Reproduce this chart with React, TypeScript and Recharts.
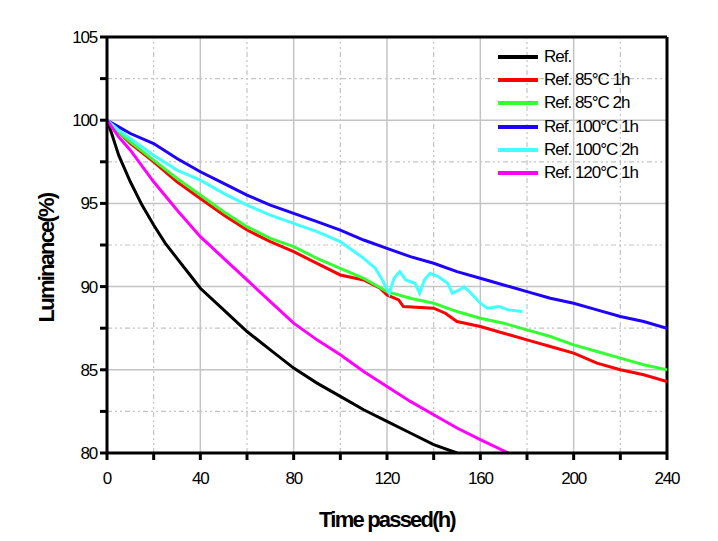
import React from "react";
import {
  LineChart,
  Line,
  XAxis,
  YAxis,
  ReferenceLine,
  Legend,
} from "recharts";

type Pt = { t: number; v: number };

const toPts = (rows: number[][]): Pt[] => rows.map(([t, v]) => ({ t, v }));

// luminance (%) vs time passed (h)
const refData = toPts([
  [0, 100], [2, 99.2], [5, 97.9], [10, 96.3], [15, 94.9], [20, 93.7], [25, 92.6],
  [30, 91.7], [35, 90.8], [40, 89.9], [50, 88.6], [60, 87.3], [70, 86.2], [80, 85.1],
  [90, 84.2], [100, 83.4], [110, 82.6], [120, 81.9], [130, 81.2], [140, 80.5], [150, 80.0],
]);

const ref85_1h = toPts([
  [0, 100], [5, 99.3], [10, 98.6], [20, 97.5], [30, 96.3], [40, 95.3], [50, 94.3],
  [60, 93.4], [70, 92.7], [80, 92.1], [90, 91.4], [100, 90.7], [110, 90.4], [117, 89.9],
  [120, 89.5], [125, 89.2], [127, 88.8], [140, 88.7], [145, 88.4], [150, 87.9], [160, 87.6],
  [170, 87.2], [180, 86.8], [190, 86.4], [200, 86.0], [210, 85.4], [220, 85.0], [230, 84.7],
  [240, 84.3],
]);

const ref85_2h = toPts([
  [0, 100], [5, 99.3], [10, 98.7], [20, 97.6], [30, 96.5], [40, 95.5], [50, 94.5],
  [60, 93.6], [70, 92.9], [80, 92.4], [90, 91.7], [100, 91.1], [110, 90.5], [120, 89.7],
  [130, 89.3], [140, 89.0], [150, 88.5], [160, 88.1], [170, 87.8], [180, 87.4], [190, 87.0],
  [200, 86.5], [210, 86.1], [220, 85.7], [230, 85.3], [240, 85.0],
]);

const ref100_1h = toPts([
  [0, 100], [5, 99.6], [10, 99.2], [20, 98.6], [30, 97.7], [40, 96.9], [50, 96.2],
  [60, 95.5], [70, 94.9], [80, 94.4], [90, 93.9], [100, 93.4], [110, 92.8], [120, 92.3],
  [130, 91.8], [140, 91.4], [150, 90.9], [160, 90.5], [170, 90.1], [180, 89.7], [190, 89.3],
  [200, 89.0], [210, 88.6], [220, 88.2], [230, 87.9], [240, 87.5],
]);

const ref100_2h = toPts([
  [0, 100], [5, 99.4], [10, 98.9], [20, 97.9], [30, 97.0], [40, 96.4], [50, 95.6],
  [60, 94.9], [70, 94.3], [80, 93.8], [90, 93.3], [100, 92.7], [110, 91.7], [115, 91.1],
  [118, 90.4], [121, 89.6], [123, 90.5], [125.5, 90.9], [128, 90.4], [132, 90.2],
  [134, 89.6], [136, 90.4], [138.5, 90.8], [142, 90.6], [146, 90.2], [148, 89.6],
  [151, 89.8], [153, 90.0], [156, 89.6], [160, 89.0], [163, 88.7], [168, 88.8],
  [172, 88.6], [178, 88.5],
]);

const ref120_1h = toPts([
  [0, 100], [5, 99.0], [10, 98.2], [20, 96.3], [30, 94.6], [40, 93.0], [50, 91.7],
  [60, 90.4], [70, 89.1], [80, 87.8], [90, 86.8], [100, 85.9], [110, 84.9], [120, 84.0],
  [130, 83.1], [140, 82.3], [150, 81.5], [160, 80.8], [172, 80.0],
]);

const seriesNames = [
  "Ref.",
  "Ref. 85°C 1h",
  "Ref. 85°C 2h",
  "Ref. 100°C 1h",
  "Ref. 100°C 2h",
  "Ref. 120°C 1h",
];
const seriesColors = ["#000000", "#ff0000", "#33ff33", "#1e00ff", "#44ffff", "#ff00ff"];
const seriesData = [refData, ref85_1h, ref85_2h, ref100_1h, ref100_2h, ref120_1h];

const xTicks = [0, 20, 40, 60, 80, 100, 120, 140, 160, 180, 200, 220, 240];
const yTicks = [80, 82.5, 85, 87.5, 90, 92.5, 95, 97.5, 100, 102.5, 105];
const xMajorGrid = [40, 80, 120, 160, 200];
const xMinorGrid = [20, 60, 100, 140, 180, 220];
const yMajorGrid = [85, 90, 95, 100];
const yMinorGrid = [82.5, 87.5, 92.5, 97.5, 102.5];

const FONT = "'Liberation Sans', Arial, sans-serif";
const GRID = "#c4c4c4";
const DOTS = "5 3 2 3 2 3";

function YTick(props: any) {
  const { x, y, payload } = props;
  const major = payload.value % 5 === 0;
  return (
    <g>
      <line x1={x} x2={x - 7} y1={y} y2={y} stroke="#000" strokeWidth={3} />
      {major && (
        <text
          x={x - 10}
          y={y + 6}
          textAnchor="end"
          fontFamily={FONT}
          fontSize={17}
          letterSpacing={-1.2}
          fill="#000"
        >
          {payload.value}
        </text>
      )}
    </g>
  );
}

function XTick(props: any) {
  const { x, y, payload } = props;
  const major = payload.value % 40 === 0;
  return (
    <g>
      <line x1={x} x2={x} y1={y} y2={y + 7} stroke="#000" strokeWidth={3} />
      {major && (
        <text
          x={x}
          y={y + 31}
          textAnchor="middle"
          fontFamily={FONT}
          fontSize={17}
          letterSpacing={-1.2}
          fill="#000"
        >
          {payload.value}
        </text>
      )}
    </g>
  );
}

function LegendBox() {
  return (
    <div style={{ fontFamily: FONT, fontSize: 17, letterSpacing: -1, color: "#000" }}>
      {seriesNames.map((name, i) => (
        <div key={name} style={{ display: "flex", alignItems: "center", height: 23.3 }}>
          <div
            style={{ width: 40, height: 4, background: seriesColors[i], marginRight: 6 }}
          />
          <span>{name}</span>
        </div>
      ))}
    </div>
  );
}

export default function App() {
  return (
    <div style={{ position: "absolute", left: 0, top: 0 }}>
      <LineChart
        width={718}
        height={541}
        margin={{ top: 37, right: 51, left: 0, bottom: 0 }}
      >
        {yMajorGrid.map((v) => (
          <ReferenceLine key={"ym" + v} y={v} stroke={GRID} strokeWidth={1.5} />
        ))}
        {yMinorGrid.map((v) => (
          <ReferenceLine key={"yn" + v} y={v} stroke={GRID} strokeWidth={1.2} strokeDasharray={DOTS} />
        ))}
        {xMajorGrid.map((v) => (
          <ReferenceLine key={"xm" + v} x={v} stroke={GRID} strokeWidth={1.5} />
        ))}
        {xMinorGrid.map((v) => (
          <ReferenceLine key={"xn" + v} x={v} stroke={GRID} strokeWidth={1.2} strokeDasharray={DOTS} />
        ))}
        <XAxis
          dataKey="t"
          type="number"
          domain={[0, 240]}
          ticks={xTicks}
          allowDataOverflow
          height={88}
          tickSize={0}
          tickMargin={0}
          tickLine={false}
          axisLine={{ stroke: "#000", strokeWidth: 3 }}
          tick={<XTick />}
          interval={0}
          label={{
            content: (p: any) => {
              const vb = p.viewBox;
              return (
                <text
                  x={vb.x + vb.width / 2}
                  y={vb.y + 74}
                  textAnchor="middle"
                  fontFamily={FONT}
                  fontWeight="bold"
                  fontSize={22}
                  letterSpacing={-1.8}
                  fill="#000"
                >
                  Time passed(h)
                </text>
              );
            },
          }}
        />
        <YAxis
          type="number"
          domain={[80, 105]}
          ticks={yTicks}
          allowDataOverflow
          width={107}
          tickSize={0}
          tickMargin={0}
          tickLine={false}
          axisLine={{ stroke: "#000", strokeWidth: 3 }}
          tick={<YTick />}
          interval={0}
          label={{
            content: (p: any) => {
              const vb = p.viewBox;
              const cx = vb.x + 46;
              const cy = vb.y + vb.height / 2 + 13;
              return (
                <text
                  x={cx}
                  y={cy}
                  transform={`rotate(-90 ${cx} ${cy})`}
                  textAnchor="middle"
                  dominantBaseline="central"
                  fontFamily={FONT}
                  fontWeight="bold"
                  fontSize={22}
                  letterSpacing={-1.8}
                  fill="#000"
                >
                  Luminance(%)
                </text>
              );
            },
          }}
        />
        <ReferenceLine y={105} stroke="#000" strokeWidth={3} />
        <ReferenceLine x={240} stroke="#000" strokeWidth={3} />
        <Legend
          layout="vertical"
          align="center"
          verticalAlign="middle"
          wrapperStyle={{ top: 45, left: 498, width: 170 }}
          content={() => <LegendBox />}
        />
        {seriesData.map((d, i) => (
          <Line
            key={seriesNames[i]}
            data={d}
            dataKey="v"
            name={seriesNames[i]}
            type="linear"
            stroke={seriesColors[i]}
            strokeWidth={3}
            dot={false}
            activeDot={false}
            isAnimationActive={false}
          />
        ))}
      </LineChart>
    </div>
  );
}
